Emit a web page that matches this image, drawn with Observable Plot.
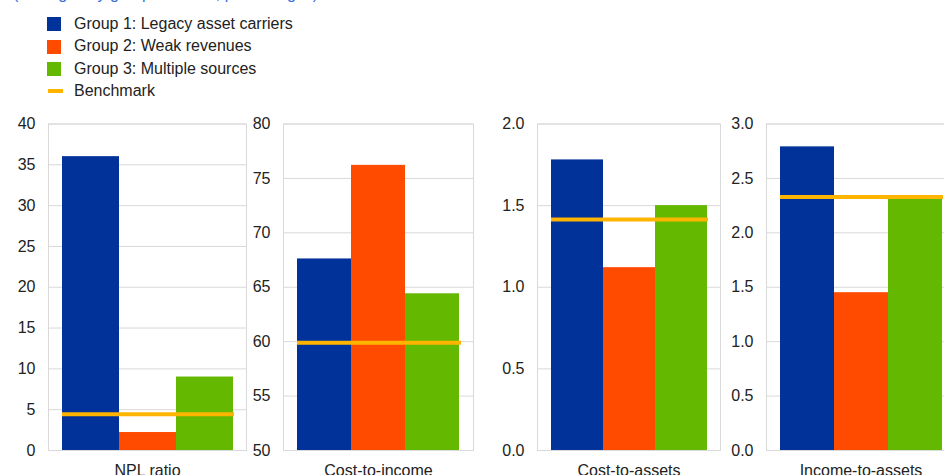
<!DOCTYPE html>
<html>
<head>
<meta charset="utf-8">
<script src="https://cdn.jsdelivr.net/npm/d3@7"></script>
<script src="https://cdn.jsdelivr.net/npm/@observablehq/plot@0.6"></script>
<style>
  html, body { margin: 0; padding: 0; background: #fff; }
  #chart { position: relative; width: 944px; height: 475px; overflow: hidden; font-family: "Liberation Sans", Arial, sans-serif; color: #222; }
  .panel { position: absolute; top: 0; }
  .sub { position: absolute; left: 13px; top: -15px; font-size: 16px; line-height: 18px; color: #3a6fd8; white-space: nowrap; }
  .legend { position: absolute; left: 47px; top: 12.8px; font-size: 16px; }
  .legend .item { position: relative; height: 22.4px; line-height: 22.4px; padding-left: 27px; white-space: nowrap; }
  .legend .sw { position: absolute; left: 0; top: 4.5px; width: 14px; height: 14px; }
  .legend .ln { position: absolute; left: 1px; top: 9px; width: 15px; height: 4px; }
</style>
</head>
<body>
<div id="chart">
  <div class="sub">(averages by group of banks; percentages)</div>
  <div class="legend" id="legend"></div>
</div>
<script>
// ---- data ----
const metrics = ["NPL ratio", "Cost-to-income", "Cost-to-assets", "Income-to-assets"];
const groupNames = ["Group 1: Legacy asset carriers", "Group 2: Weak revenues", "Group 3: Multiple sources"];
const benchmarkName = "Benchmark";
const group1 = [36.0, 67.6, 1.78, 2.79];
const group2 = [2.2, 76.2, 1.12, 1.45];
const group3 = [9.0, 64.4, 1.50, 2.32];
const benchmark = [4.45, 59.9, 1.415, 2.33];
const yTicks = [
  [0, 5, 10, 15, 20, 25, 30, 35, 40],
  [50, 55, 60, 65, 70, 75, 80],
  [0, 0.5, 1.0, 1.5, 2.0],
  [0, 0.5, 1.0, 1.5, 2.0, 2.5, 3.0]
];
const yTickFormats = ["d", "d", ".1f", ".1f"];

// ---- styling / layout ----
const colors = ["#003299", "#ff4b00", "#65b800"];
const benchColor = "#ffb400";
const frames = [[47.7, 246], [283.3, 473.3], [536.7, 720.3], [766, 955.5]];
const ML = 48, MR = 4;

const chart = document.getElementById("chart");
const seriesVals = [group1, group2, group3];

metrics.forEach((metric, i) => {
  const rows = groupNames.map((g, j) => ({metric, group: g, value: seriesVals[j][i]}));
  const ticks = yTicks[i];
  const yMin = ticks[0], yMax = ticks[ticks.length - 1];
  const [fl, fr] = frames[i];
  const W = ML + (fr - fl) + MR;
  const svg = Plot.plot({
    width: W,
    height: 475,
    marginLeft: ML,
    marginRight: MR,
    marginTop: 123.5,
    marginBottom: 25,
    style: {fontFamily: '"Liberation Sans", Arial, sans-serif', fontSize: "16px", color: "#222", background: "transparent", overflow: "visible"},
    x: {domain: groupNames, axis: null, padding: 0, inset: 13.5},
    y: {domain: [yMin, yMax], ticks, tickFormat: d3.format(yTickFormats[i]), tickSize: 0, tickPadding: 13, label: null},
    fx: {domain: [metric], padding: 0, axis: "bottom", tickSize: 0, tickPadding: 14, label: null},
    color: {domain: groupNames, range: colors},
    marks: [
      Plot.gridY(ticks, {stroke: "#d9d9d9", strokeOpacity: 1}),
      Plot.frame({stroke: "#d9d9d9", strokeOpacity: 1}),
      Plot.barY(rows, {fx: "metric", x: "group", y1: yMin, y2: "value", fill: "group"}),
      Plot.ruleY([{metric, value: benchmark[i]}], {fx: "metric", y: "value", stroke: benchColor, strokeWidth: 4, insetLeft: 14, insetRight: 12})
    ]
  });
  svg.classList.add("panel");
  svg.style.left = (fl - ML) + "px";
  chart.appendChild(svg);
});

// ---- legend ----
const legend = document.getElementById("legend");
groupNames.forEach((g, j) => {
  const it = document.createElement("div");
  it.className = "item";
  it.innerHTML = `<span class="sw" style="background:${colors[j]}"></span>${g}`;
  legend.appendChild(it);
});
const bi = document.createElement("div");
bi.className = "item";
bi.innerHTML = `<span class="ln" style="background:${benchColor}"></span>${benchmarkName}`;
legend.appendChild(bi);
</script>
</body>
</html>
